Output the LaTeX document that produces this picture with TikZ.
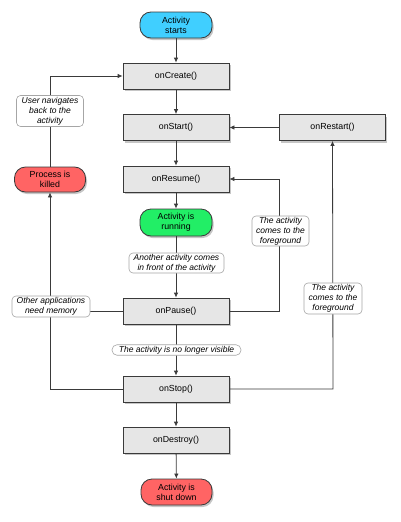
\documentclass[tikz,border=0pt]{standalone}
\usepackage{fontspec}
\setmainfont{Liberation Sans}
\usetikzlibrary{shadows,arrows.meta}
\definecolor{boxfill}{HTML}{E6E6E6}
\definecolor{edge}{HTML}{3A3A3A}
\definecolor{startblue}{HTML}{40CFFF}
\definecolor{rungreen}{HTML}{22EE66}
\definecolor{killred}{HTML}{FF6464}
\tikzset{
  every node/.style={font=\fontsize{8.8}{10}\selectfont, align=center, inner sep=0pt},
  method/.style={draw=edge, line width=0.8pt, fill=boxfill, minimum width=106pt, minimum height=26pt,
    drop shadow={shadow xshift=1.5pt, shadow yshift=-2pt, opacity=0.45}},
  pill/.style={draw=edge, line width=0.8pt, rounded corners=11pt, minimum width=72pt, minimum height=26pt,
    drop shadow={shadow xshift=1.5pt, shadow yshift=-2pt, opacity=0.45}},
  note/.style={draw=gray!70, line width=0.6pt, fill=white, rounded corners=4pt,
    font=\fontsize{8.5}{10}\selectfont\itshape},
  conn/.style={draw=edge, line width=0.8pt},
  arr/.style={conn, -{Latex[length=5pt,width=4.5pt]}}
}
\begin{document}
\begin{tikzpicture}[x=1pt,y=-1pt]
\useasboundingbox (0,0) rectangle (400,522);
% main nodes
\node[pill, fill=startblue] (start) at (176,25) {Activity\\starts};
\node[method] (create) at (176,76) {onCreate()};
\node[method] (onstart) at (176,127.5) {onStart()};
\node[method] (restart) at (332.5,127.5) {onRestart()};
\node[method] (resume) at (176,179) {onResume()};
\node[pill, fill=killred, minimum width=71pt, minimum height=25pt] (killed) at (50,179.5) {Process is\\killed};
\node[pill, fill=rungreen, minimum height=27pt] (running) at (176,222.5) {Activity is\\running};
\node[method] (pause) at (176,311) {onPause()};
\node[method] (stop) at (176,389) {onStop()};
\node[method] (destroy) at (176,440) {onDestroy()};
\node[pill, fill=killred, minimum width=71pt] (shut) at (176.5,492) {Activity is\\shut down};
% helper coordinates
\coordinate (cUser) at (50,76);
\coordinate (cPauseR) at (279,311);
\coordinate (cResumeR) at (279,179);
\coordinate (cStopR) at (333,389);
\coordinate (cStopL) at (50,389);
\coordinate (cPauseL) at (50,311);
% straight flow
\draw[arr] (start) -- (create);
\draw[arr] (create) -- (onstart);
\draw[arr] (onstart) -- (resume);
\draw[arr] (resume) -- (running);
\draw[arr] (running) -- (pause);
\draw[arr] (pause) -- (stop);
\draw[arr] (stop) -- (destroy);
\draw[arr] (destroy) -- (shut);
\draw[arr] (restart) -- (onstart);
% loops
\draw[arr] (pause.east) -- (cPauseR) -- (cResumeR) -- (resume.east);
\draw[arr] (stop.east) -- (cStopR) -- (restart.south);
\draw[arr] (stop.west) -- (cStopL) -- (killed.south);
\draw[conn] (pause.west) -- (cPauseL);
\draw[arr] (killed.north) -- (cUser) -- (create.west);
% labels
\node[note, minimum width=67pt, minimum height=31pt] (lUser) at (50,111) {User navigates\\back to the\\activity};
\node[note, minimum width=57pt, minimum height=30pt] (lFg1) at (280.5,231) {The activity\\comes to the\\foreground};
\node[note, minimum width=95pt, minimum height=20pt] (lAnother) at (176.5,263) {Another activity comes\\in front of the activity};
\node[note, minimum width=78pt, minimum height=21pt] (lOther) at (51,306.5) {Other applications\\need memory};
\node[note, minimum width=58pt, minimum height=31pt] (lFg2) at (333,298.5) {The activity\\comes to the\\foreground};
\node[note, rounded corners=5pt, minimum width=129pt, minimum height=10.5pt] (lVisible) at (176.5,350) {The activity is no longer visible};
\end{tikzpicture}
\end{document}
